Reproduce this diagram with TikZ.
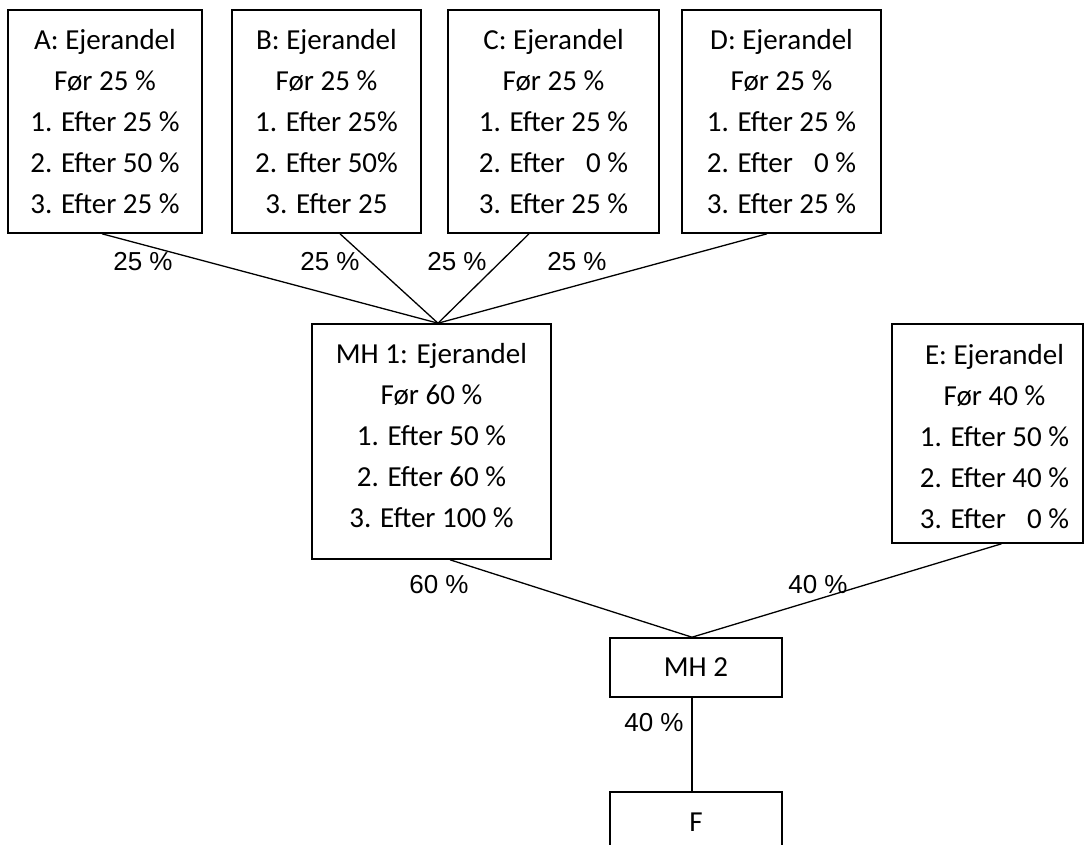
\documentclass[tikz,border=0pt]{standalone}
\usepackage{fontspec}
\setmainfont{Carlito}
\newfontfamily\labelfont{Liberation Sans}
\usetikzlibrary{calc}
\begin{document}
\begin{tikzpicture}[x=1pt,y=-1pt,
  box/.style={draw, line width=1.6pt, align=center, inner sep=0pt,
              font=\fontsize{29}{41}\selectfont},
  link/.style={line width=1.3pt},
  pct/.style={font=\labelfont\fontsize{26}{30}\selectfont, inner sep=0pt}]
\useasboundingbox (0,0) rectangle (1085,845);

% owners at the top
\node[box, minimum width=194pt, minimum height=223pt] (A) at (105,121.5)
  {A: Ejerandel\\Før 25 \%\\1. Efter 25 \%\\2. Efter 50 \%\\3. Efter 25 \%};
\node[box, minimum width=189pt, minimum height=223pt] (B) at (326.5,121.5)
  {B: Ejerandel\\Før 25 \%\\1. Efter 25\%\\2. Efter 50\%\\3. Efter 25};
\node[box, minimum width=211pt, minimum height=223pt] (C) at (553.5,121.5)
  {C: Ejerandel\\Før 25 \%\\1. Efter 25 \%\\2. Efter \phantom{2}0 \%\\3. Efter 25 \%};
\node[box, minimum width=199pt, minimum height=223pt] (D) at (781.5,121.5)
  {D: Ejerandel\\Før 25 \%\\1. Efter 25 \%\\2. Efter \phantom{2}0 \%\\3. Efter 25 \%};

% holding companies and E
\node[box, minimum width=239pt, minimum height=235pt] (MH1) at (431.5,441.5)
  {MH 1: Ejerandel\\Før 60 \%\\1. Efter 50 \%\\2. Efter 60 \%\\3. Efter 100 \%\\[-29pt]\mbox{}};
\node[box, minimum width=191pt, minimum height=219pt] (E) at (987.5,433.5)
  {\hspace*{14pt}\raisebox{0pt}[\dimexpr\height+9pt\relax]{\begin{tabular}{@{}c@{}}E: Ejerandel\\Før 40 \%\\1. Efter 50 \%\\2. Efter 40 \%\\3. Efter \phantom{2}0 \%\end{tabular}}};
\node[box, minimum width=172pt, minimum height=59pt] (MH2) at (696,667.5) {MH 2};
\node[box, minimum width=172pt, minimum height=60pt] (F) at (696,822) {F};

% attachment points
\coordinate (top1) at ($(MH1.north)+(6.5,0)$);
\coordinate (top2) at ($(MH2.north)+(-4,0)$);

% ownership links
\draw[link] ($(A.south)+(-3,0)$) -- (top1);
\draw[link] ($(B.south)+(13.5,0)$) -- (top1);
\draw[link] ($(C.south)+(-24.5,0)$) -- (top1);
\draw[link] ($(D.south)+(-14.5,0)$) -- (top1);
\draw[link] ($(MH1.south)+(18.5,0)$) -- (top2);
\draw[link] ($(E.south)+(14,0)$) -- (top2);
\draw[link] ($(MH2.south)+(-4,0)$) -- ($(F.north)+(-4,0)$);

% share labels
\node[pct] (pA) at (143,262) {25 \%};
\node[pct] (pB) at (330,262) {25 \%};
\node[pct] (pC) at (457,262) {25 \%};
\node[pct] (pD) at (577,262) {25 \%};
\node[pct] (p1) at (439,585) {60 \%};
\node[pct] (pE) at (818,585) {40 \%};
\node[pct] (p2) at (654,723) {40 \%};
\end{tikzpicture}
\end{document}
